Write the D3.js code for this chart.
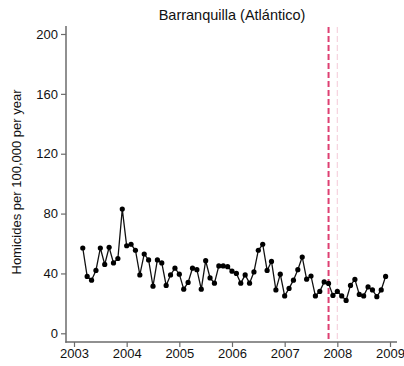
<!DOCTYPE html>
<html>
<head>
<meta charset="utf-8">
<script src="https://cdn.jsdelivr.net/npm/d3@7"></script>
<style>
    body { margin: 0; background: #fff; }
    svg { display: block; font-family: "Liberation Sans", Arial, sans-serif; }
</style>
</head>
<body>
<div id="chart"></div>
<script>
// Monthly homicide rates, Barranquilla, March 2003 - December 2008
var rates2003 = [57, 38, 35.5, 42, 57, 46, 57.5, 47, 50, 83]; // Mar-Dec
var rates2004 = [58.5, 59.5, 55.5, 39, 53, 49, 31.5, 49, 47, 32, 39, 43.5];
var rates2005 = [39.5, 29.5, 34, 43.5, 42.5, 29.5, 48.5, 37, 33.5, 45, 45, 44.5];
var rates2006 = [41.5, 40, 33.5, 39, 33.5, 41, 55.5, 59.5, 42, 48, 29, 39.5];
var rates2007 = [25, 30, 35.5, 42.5, 51, 36.2, 38.3, 25, 28, 34.3, 33.3, 25.3];
var rates2008 = [28, 25, 22, 32, 36, 26, 25, 31, 29, 24.5, 29, 38];

var yearTicks = [2003, 2004, 2005, 2006, 2007, 2008, 2009];
var rateTicks = [0, 40, 80, 120, 160, 200];

// Reference lines (Nov 2007 and Jan 2008)
var eventDate = 2007 + 10 / 12;
var yearMark = 2008;

var width = 404, height = 366;

// Build monthly series (first year starts in March)
var series = [];
[[2003, 3, rates2003], [2004, 1, rates2004], [2005, 1, rates2005],
 [2006, 1, rates2006], [2007, 1, rates2007], [2008, 1, rates2008]].forEach(function(row) {
    row[2].forEach(function(v, i) {
        series.push({ t: row[0] + (row[1] - 1 + i) / 12, v: v });
    });
});

var svg = d3.select("#chart")
    .append("svg")
    .attr("width", width)
    .attr("height", height);

var x = d3.scaleLinear().domain([2003, 2009]).range([74, 390]);
var y = d3.scaleLinear().domain([0, 200]).range([333.3, 34]);

var axisColor = "#6b6b6b";

// Title
svg.append("text")
    .attr("x", 232)
    .attr("y", 19.5)
    .attr("text-anchor", "middle")
    .style("font-size", "14.5px")
    .style("fill", "#111")
    .text("Barranquilla (Atlántico)");

// Y axis label
svg.append("text")
    .attr("transform", "translate(21," + 182 + ") rotate(-90)")
    .attr("text-anchor", "middle")
    .style("font-size", "13px")
    .style("fill", "#111")
    .text("Homicides per 100,000 per year");

// Reference lines
svg.append("line")
    .attr("x1", x(yearMark)).attr("x2", x(yearMark))
    .attr("y1", 27).attr("y2", 341)
    .style("stroke", "#f6d3de")
    .style("stroke-width", 1.2)
    .style("stroke-dasharray", "6,3");

svg.append("line")
    .attr("x1", x(eventDate)).attr("x2", x(eventDate))
    .attr("y1", 27).attr("y2", 341)
    .style("stroke", "#de3f72")
    .style("stroke-width", 2)
    .style("stroke-dasharray", "6,3");

// Y axis
var yAxis = svg.append("g")
    .attr("transform", "translate(66,0)")
    .call(d3.axisLeft(y).tickValues(rateTicks).tickSize(5).tickSizeOuter(0).tickPadding(3));

// X axis
var xAxis = svg.append("g")
    .attr("transform", "translate(0,342)")
    .call(d3.axisBottom(x).tickValues(yearTicks).tickFormat(d3.format("d")).tickSize(5).tickSizeOuter(0).tickPadding(2));

[yAxis, xAxis].forEach(function(g) {
    g.select(".domain").remove();
    g.selectAll(".tick line").style("stroke", axisColor).style("stroke-width", 1.2);
    g.selectAll(".tick text")
        .style("font-family", "'Liberation Sans', Arial, sans-serif")
        .style("font-size", "13px")
        .style("fill", "#111");
});

// Axis lines drawn past the data range
svg.append("line")
    .attr("x1", 66).attr("x2", 66)
    .attr("y1", 26).attr("y2", 342.7)
    .style("stroke", axisColor)
    .style("stroke-width", 1.5);

svg.append("line")
    .attr("x1", 65.3).attr("x2", 397)
    .attr("y1", 342).attr("y2", 342)
    .style("stroke", axisColor)
    .style("stroke-width", 1.5);

// Series line and markers
var line = d3.line()
    .x(function(d) { return x(d.t); })
    .y(function(d) { return y(d.v); });

svg.append("path")
    .datum(series)
    .attr("d", line)
    .style("fill", "none")
    .style("stroke", "#111")
    .style("stroke-width", 1.3);

svg.selectAll(".pt")
    .data(series)
    .enter()
    .append("circle")
    .attr("class", "pt")
    .attr("cx", function(d) { return x(d.t); })
    .attr("cy", function(d) { return y(d.v); })
    .attr("r", 2.6)
    .style("fill", "#000");
</script>
</body>
</html>
